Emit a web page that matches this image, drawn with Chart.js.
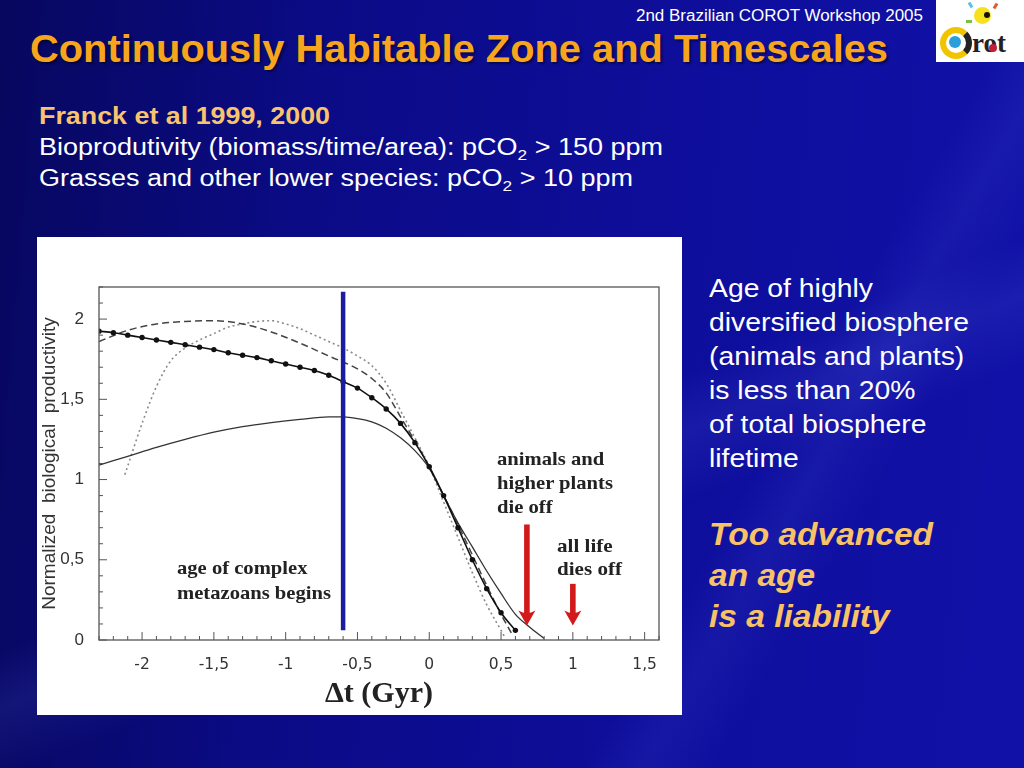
<!DOCTYPE html>
<html>
<head>
<meta charset="utf-8">
<script src="https://cdn.jsdelivr.net/npm/chart.js"></script>
<style>
body{margin:0;background:#0c0c8c;}
#slide{position:relative;width:1024px;height:768px;overflow:hidden;font-family:"Liberation Sans",Arial,sans-serif;
  background:
   linear-gradient(158deg,rgba(255,255,255,0) 55%,rgba(120,140,255,0.10) 60%,rgba(255,255,255,0) 66%),
   linear-gradient(120deg,rgba(255,255,255,0) 70%,rgba(120,140,255,0.08) 74%,rgba(255,255,255,0) 79%),
   linear-gradient(95deg,#07075f 0%,#0b0b86 30%,#0e0e9c 65%,#1111a8 100%);}
.t{position:absolute;white-space:nowrap;transform-origin:0 0;line-height:1;}
.note{position:absolute;white-space:nowrap;transform-origin:0 0;font-family:"Liberation Serif","Times New Roman",serif;font-weight:bold;font-size:19px;color:#222;}
sub{font-size:15px;vertical-align:-5px;line-height:0;}
#box{position:absolute;left:37px;top:237px;width:645px;height:478px;background:#fff;}
</style>
</head>
<body>
<div id="slide">
  <div class="t" id="hdr" style="left:636px;top:8px;font-size:16px;color:#fff;">2nd Brazilian COROT Workshop 2005</div>
  <div class="t" id="title" style="left:30px;top:30px;font-size:38px;font-weight:bold;color:#f8a51e;text-shadow:2px 2px 2px rgba(0,0,0,0.45);">Continuously Habitable Zone and Timescales</div>
  <div class="t" id="franck" style="left:39px;top:104.5px;font-size:23.5px;font-weight:bold;color:#f9c46e;">Franck et al 1999, 2000</div>
  <div class="t" id="bio" style="left:39px;top:135.5px;font-size:23.5px;color:#fff;">Bioprodutivity (biomass/time/area): pCO<sub>2</sub> &gt; 150 ppm</div>
  <div class="t" id="grass" style="left:39px;top:167px;font-size:23.5px;color:#fff;">Grasses and other lower species: pCO<sub>2</sub> &gt; 10 ppm</div>

  <div class="t" id="side" style="left:709px;top:270.5px;font-size:26px;line-height:34px;color:#fff;">
    <div>Age of highly</div><div><span id="side2">diversified biosphere</span></div><div>(animals and plants)</div>
    <div>is less than 20%</div><div>of total biosphere</div><div>lifetime</div>
  </div>
  <div class="t" id="warn" style="left:709px;top:514px;font-size:32px;line-height:41px;font-weight:bold;font-style:italic;color:#f9c266;">
    <div><span id="warn1">Too advanced</span></div><div>an age</div><div>is a liability</div>
  </div>

  <!-- logo -->
  <div style="position:absolute;left:936px;top:0;width:88px;height:62px;background:#fff;">
    <div style="position:absolute;left:38px;top:7px;width:17px;height:17px;border-radius:50%;background:#f6e11c;"></div>
    <div style="position:absolute;left:48px;top:12px;width:6px;height:6px;border-radius:50%;background:#111;"></div>
    <div style="position:absolute;left:33px;top:2px;width:3px;height:6px;background:#5bc0e8;transform:rotate(-30deg);"></div>
    <div style="position:absolute;left:58px;top:3px;width:3px;height:6px;background:#e05a2a;transform:rotate(30deg);"></div>
    <div style="position:absolute;left:30px;top:20px;width:6px;height:3px;background:#7bc043;"></div>
    <div style="position:absolute;left:4px;top:27px;width:20px;height:20px;border-radius:50%;border:6px solid #f2c400;border-right-color:#222;"></div>
    <div style="position:absolute;left:13px;top:36px;width:12px;height:12px;border-radius:50%;background:#2a9fd8;"></div>
    <div style="position:absolute;left:36px;top:28px;font:bold 27px 'Liberation Serif',serif;color:#222;">rot</div>
    <div style="position:absolute;left:53px;top:44px;width:8px;height:8px;border-radius:50%;background:#c0203a;"></div>
  </div>

  <div id="box"><canvas id="prod-chart"></canvas></div>

  <div class="note" id="n1" style="left:177px;top:555px;line-height:25px;"><div>age of complex</div><div>metazoans begins</div></div>
  <div class="note" id="n2" style="left:497px;top:447px;line-height:24px;"><div>animals and</div><div>higher plants</div><div>die off</div></div>
  <div class="note" id="n3" style="left:557px;top:534px;line-height:23px;"><div>all life</div><div>dies off</div></div>
</div>

<script>
// curve with markers
let markX = [-2.3,-2.2,-2.1,-2.0,-1.9,-1.8,-1.7,-1.6,-1.5,-1.4,-1.3,-1.2,-1.1,-1.0,-0.9,-0.8,-0.7,-0.6,-0.5,-0.4,-0.3,-0.2,-0.1,0.0,0.1,0.2,0.3,0.4,0.5,0.6];
let markY = [1.925,1.915,1.90,1.885,1.87,1.855,1.84,1.825,1.81,1.79,1.775,1.76,1.74,1.72,1.70,1.68,1.65,1.61,1.57,1.51,1.44,1.35,1.23,1.08,0.90,0.70,0.50,0.32,0.17,0.06];
// thin solid curve
let solidX = [-2.3,-2.1,-1.9,-1.7,-1.5,-1.3,-1.1,-0.9,-0.7,-0.6,-0.5,-0.4,-0.3,-0.2,-0.1,0.0,0.1,0.2,0.3,0.4,0.5,0.6,0.7,0.8];
let solidY = [1.09,1.145,1.20,1.25,1.295,1.33,1.355,1.375,1.39,1.39,1.38,1.36,1.32,1.26,1.18,1.07,0.90,0.73,0.58,0.43,0.29,0.16,0.08,0.01];
// dashed curve
let dashX = [-2.3,-2.1,-1.9,-1.7,-1.5,-1.3,-1.1,-0.9,-0.7,-0.5,-0.4,-0.3,-0.2,-0.1,0.0,0.1,0.2,0.3,0.4,0.5,0.58];
let dashY = [1.86,1.93,1.97,1.985,1.99,1.97,1.92,1.85,1.77,1.69,1.63,1.54,1.39,1.24,1.08,0.90,0.72,0.53,0.34,0.16,0.03];
// dotted curve
let dotX = [-2.12,-2.0,-1.9,-1.8,-1.7,-1.6,-1.5,-1.4,-1.3,-1.2,-1.1,-1.0,-0.9,-0.8,-0.7,-0.6,-0.5,-0.4,-0.3,-0.2,-0.1,0.0,0.1,0.2,0.3,0.4,0.5,0.53];
let dotY = [1.03,1.35,1.58,1.74,1.82,1.87,1.91,1.95,1.97,1.985,1.99,1.97,1.94,1.90,1.86,1.82,1.77,1.71,1.60,1.43,1.26,1.08,0.86,0.64,0.42,0.22,0.06,0.01];
// metazoans line
let blueX = [-0.6,-0.6];
let blueY = [0.06,2.17];
// red arrows
let arrowX = [0.68,1.0];
let arrowFrom = [0.72,0.35];
let arrowTo = [0.09,0.09];

let xTicks = [-2,-1.5,-1,-0.5,0,0.5,1,1.5];
let yTicks = [0,0.5,1,1.5,2];

function pts(xs, ys){
  return xs.map(function(v,i){ return {x:v, y:ys[i]}; });
}
function comma(v){ return String(v).replace('.', ','); }

// squeeze text to the slide widths
function fit(id, w, refId){
  let el = document.getElementById(id);
  let ref = document.getElementById(refId || id);
  let r = w / ref.getBoundingClientRect().width;
  el.style.transform = 'scaleX(' + r + ')';
}
fit('hdr', 287); fit('title', 858); fit('franck', 291); fit('bio', 624); fit('grass', 594);
fit('side', 260, 'side2');
fit('warn', 224, 'warn1');
fit('n1', 154); fit('n2', 116); fit('n3', 65);

const frame = {
  id:'frame',
  afterDatasetsDraw(chart){
    const ctx = chart.ctx, a = chart.chartArea, x = chart.scales.x, y = chart.scales.y;
    ctx.save();
    ctx.strokeStyle = '#555';
    ctx.lineWidth = 1.3;
    ctx.strokeRect(a.left, a.top, a.right - a.left, a.bottom - a.top);
    ctx.lineWidth = 1;
    ctx.beginPath();
    for (let i = -23; i <= 16; i++){
      let px = x.getPixelForValue(i / 10);
      let len = (i % 5 === 0) ? 8 : 4;
      ctx.moveTo(px, a.bottom); ctx.lineTo(px, a.bottom - len);
    }
    for (let j = 0; j <= 22; j++){
      let py = y.getPixelForValue(j / 10);
      let len = (j % 5 === 0) ? 8 : 4;
      ctx.moveTo(a.left, py); ctx.lineTo(a.left + len, py);
    }
    ctx.stroke();
    // arrows
    ctx.fillStyle = '#d21a1a';
    for (let k = 0; k < arrowX.length; k++){
      let ax = x.getPixelForValue(arrowX[k]);
      let y0 = y.getPixelForValue(arrowFrom[k]);
      let y1 = y.getPixelForValue(arrowTo[k]);
      ctx.fillRect(ax - 2.8, y0, 5.6, y1 - y0 - 10);
      ctx.beginPath();
      ctx.moveTo(ax - 8.5, y1 - 15);
      ctx.quadraticCurveTo(ax, y1 - 10, ax + 8.5, y1 - 15);
      ctx.lineTo(ax, y1);
      ctx.closePath();
      ctx.fill();
    }
    ctx.restore();
  }
};

new Chart(document.getElementById('prod-chart'), {
  type:'scatter',
  data:{
    datasets:[
      {data:pts(blueX, blueY), showLine:true, borderColor:'#1c1c9e', borderWidth:4.5, pointRadius:0, tension:0},
      {data:pts(markX, markY), showLine:true, borderColor:'#111', borderWidth:1.6, pointRadius:2.7,
        pointBackgroundColor:'#111', pointBorderWidth:0, cubicInterpolationMode:'monotone'},
      {data:pts(solidX, solidY), showLine:true, borderColor:'#333', borderWidth:1.3, pointRadius:0, cubicInterpolationMode:'monotone'},
      {data:pts(dashX, dashY), showLine:true, borderColor:'#444', borderWidth:1.5, borderDash:[7,4], pointRadius:0, cubicInterpolationMode:'monotone'},
      {data:pts(dotX, dotY), showLine:true, borderColor:'#8a8a8a', borderWidth:1.6, borderDash:[2,3], pointRadius:0, cubicInterpolationMode:'monotone'}
    ]
  },
  options:{
    responsive:true,
    maintainAspectRatio:false,
    animation:false,
    layout:{padding:{left:0, top:50, right:23, bottom:0}},
    plugins:{legend:{display:false}, tooltip:{enabled:false}},
    scales:{
      x:{
        type:'linear', min:-2.3, max:1.6,
        afterFit:function(s){ s.height = 75; },
        afterBuildTicks:function(s){ s.ticks = xTicks.map(function(v){ return {value:v}; }); },
        grid:{display:false},
        border:{display:false},
        ticks:{padding:8, color:'#333', font:{family:'DejaVu Sans', size:15.5}, callback:comma, maxRotation:0},
        title:{display:true, text:'\u0394t (Gyr)', color:'#222', padding:{top:0, bottom:3},
          font:{family:'Liberation Serif', size:30, weight:'bold'}}
      },
      y:{
        type:'linear', min:0, max:2.2,
        afterFit:function(s){ s.width = 62; },
        afterBuildTicks:function(s){ s.ticks = yTicks.map(function(v){ return {value:v}; }); },
        grid:{display:false},
        border:{display:false},
        ticks:{padding:7, color:'#333', font:{family:'Liberation Sans', size:17}, callback:comma},
        title:{display:true, text:'Normalized  biological  productivity', color:'#333', padding:{top:1, bottom:0},
          font:{family:'Liberation Sans', size:19}}
      }
    }
  },
  plugins:[frame]
}); // chart
</script>
</body>
</html>
